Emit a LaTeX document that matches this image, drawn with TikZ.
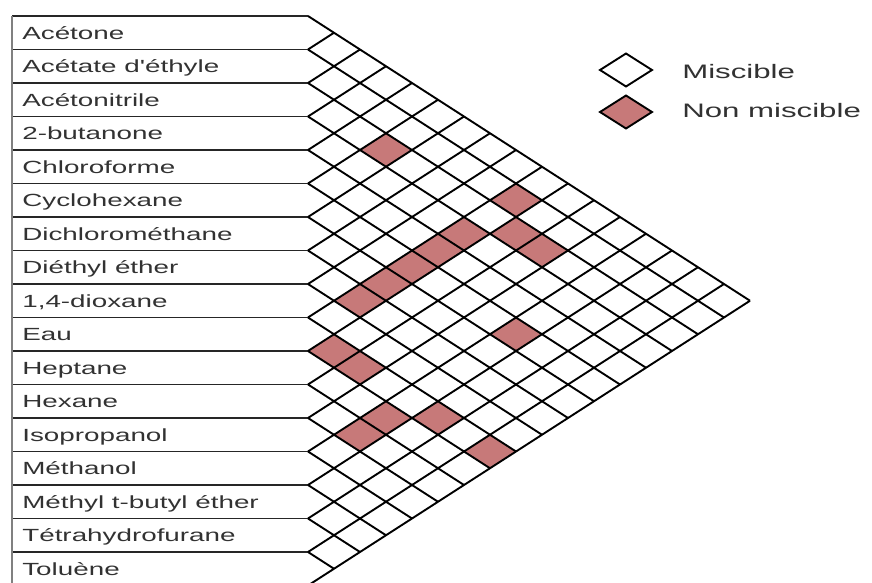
\documentclass[tikz,border=0pt]{standalone}
\usepackage{fontspec}
\setmainfont{Liberation Sans}
\usepackage{xcolor}
\definecolor{nmred}{RGB}{199,121,121}
\definecolor{txt}{RGB}{50,50,50}
% red diamond for the pair (i,j), i<j
\newcommand{\nm}[2]{\fill[nmred] ({308+(#2-#1-1)*26},{16.75*(#1+#2)-0.75}) -- ++(26,-16.75) -- ++(26,16.75) -- ++(-26,16.75) -- cycle;}
\tikzset{
  lbl/.style={anchor=west, xscale=1.58, inner sep=0pt, text height=12.6pt, text depth=0pt,
    text=txt, font=\fontsize{17.6}{20}\selectfont},
  lgd/.style={anchor=west, xscale=1.6, inner sep=0pt, text height=14pt, text depth=0pt,
    text=txt, font=\fontsize{19.5}{22}\selectfont},
  gridline/.style={line width=1.9pt, black}
}
\begin{document}
\begin{tikzpicture}[x=1pt, y=-1pt]
      \useasboundingbox (0,0) rectangle (872,583);
      % non miscible pairs
      \nm{3}{6} \nm{2}{10} \nm{4}{10} \nm{5}{10} \nm{6}{10} \nm{7}{10} \nm{8}{10}
      \nm{3}{11} \nm{3}{12} \nm{6}{14} \nm{10}{11} \nm{10}{12} \nm{11}{14}
      \nm{10}{15} \nm{12}{14} \nm{10}{17}
      % boxes
      \foreach \k in {0,...,17}
        \draw[line width=1.9pt, black!85] (12,{16+33.5*\k}) -- (308,{16+33.5*\k});
      \draw[line width=2.4pt, gray] (12,16) -- (12,585.5);
      % grid
      \foreach \k in {0,...,17} {
        \draw[gridline] (308,{16+33.5*\k}) -- ++({26*(17-\k)},{16.75*(17-\k)});
        \draw[gridline] (308,{16+33.5*\k}) -- ++({26*\k},{-16.75*\k});
      }
      \node (acetone) at (22,32.75) [lbl] {Acétone};
      \node (acetate) at (22,66.25) [lbl] {Acétate d\textquotesingle éthyle};
      \node (acetonitrile) at (22,99.75) [lbl] {Acétonitrile};
      \node (butanone) at (22,133.25) [lbl] {2-butanone};
      \node (chloroforme) at (22,166.75) [lbl] {Chloroforme};
      \node (cyclohexane) at (22,200.25) [lbl] {Cyclohexane};
      \node (dcm) at (22,233.75) [lbl] {Dichlorométhane};
      \node (ether) at (22,267.25) [lbl] {Diéthyl éther};
      \node (dioxane) at (22,300.75) [lbl] {1,4-dioxane};
      \node (eau) at (22,334.25) [lbl] {Eau};
      \node (heptane) at (22,367.75) [lbl] {Heptane};
      \node (hexane) at (22,401.25) [lbl] {Hexane};
      \node (ipa) at (22,434.75) [lbl] {Isopropanol};
      \node (methanol) at (22,468.25) [lbl] {Méthanol};
      \node (mtbe) at (22,501.75) [lbl] {Méthyl t-butyl éther};
      \node (thf) at (22,535.25) [lbl] {Tétrahydrofurane};
      \node (toluene) at (22,568.75) [lbl] {Toluène};
      % legend
      \draw[gridline, fill=white] (600,70) -- ++(26,-16.5) -- ++(26,16.5) -- ++(-26,16.5) -- cycle;
      \draw[gridline, fill=nmred] (600,112) -- ++(26,-16.5) -- ++(26,16.5) -- ++(-26,16.5) -- cycle;
      \node (mis) at (682,71.5) [lgd] {Miscible};
      \node (nonmis) at (682,110.5) [lgd] {Non miscible};
\end{tikzpicture}
\end{document}
